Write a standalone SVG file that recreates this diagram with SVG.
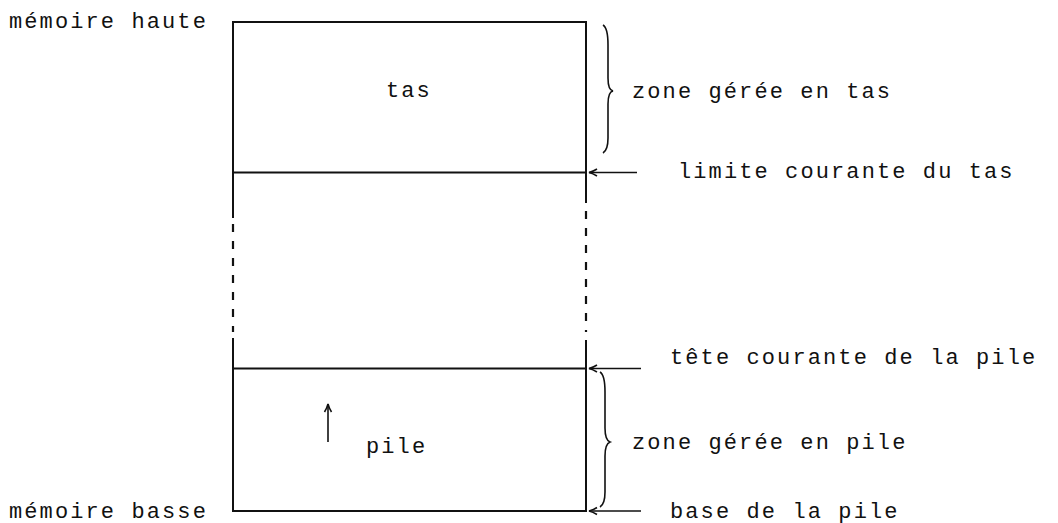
<svg xmlns="http://www.w3.org/2000/svg" width="1058" height="523" viewBox="0 0 1058 523">
<style>
.t{font-family:"Liberation Mono","Courier New",monospace;font-size:22px;letter-spacing:2.1px;fill:#111}
.l{stroke:#111;stroke-width:2;fill:none}
.d{stroke:#111;stroke-width:2.2;fill:none;stroke-dasharray:8 9}
.b{stroke:#111;stroke-width:1.6;fill:none}
.a{stroke:#111;stroke-width:1.6;fill:none}
</style>
<defs>
<marker id="ah" viewBox="0 0 10 10" refX="9" refY="5" markerWidth="10" markerHeight="10" orient="auto" markerUnits="userSpaceOnUse">
<path d="M1,1.5 Q5,4 9,5 Q5,6 1,8.5" fill="none" stroke="#111" stroke-width="1.6"/>
</marker>
</defs>
<rect width="1058" height="523" fill="#fff"/>
<g id="tas">
<path class="l" d="M233,172.5 L233,22 L586,22 L586,172.5 Z"/>
<text class="t" x="386" y="97">tas</text>
</g>
<g id="libre">
<path class="l" d="M233,172.5 L233,218 M233,338 L233,368.5"/>
<path class="d" d="M233,224 L233,332"/>
<path class="l" d="M586,172.5 L586,203 M586,340 L586,368.5"/>
<path class="d" d="M586,211 L586,332"/>
</g>
<g id="pile">
<path class="l" d="M233,368.5 L233,511 L586,511 L586,368.5 Z"/>
<text class="t" x="366" y="453">pile</text>
<line class="a" x1="328" y1="442" x2="328" y2="404" marker-end="url(#ah)"/>
</g>
<g id="labels">
<text class="t" x="9" y="28">mémoire haute</text>
<text class="t" x="9" y="518">mémoire basse</text>
<text class="t" x="632" y="98">zone gérée en tas</text>
<text class="t" x="678" y="178">limite courante du tas</text>
<text class="t" x="670" y="364">tête courante de la pile</text>
<text class="t" x="632" y="449">zone gérée en pile</text>
<text class="t" x="670" y="518">base de la pile</text>
</g>
<g id="connectors">
<line class="a" x1="637" y1="172.5" x2="589" y2="172.5" marker-end="url(#ah)"/>
<line class="a" x1="641" y1="368.5" x2="589" y2="368.5" marker-end="url(#ah)"/>
<line class="a" x1="641" y1="511" x2="589" y2="511" marker-end="url(#ah)"/>
<path class="b" d="M603,25 Q608,28 608,45 L608,78 Q608,90 613,91 Q608,92 608,104 L608,138 Q608,150 603,153"/>
<path class="b" d="M600,372 Q605,375 605,392 L605,428 Q605,440 610,442 Q605,444 605,456 L605,492 Q605,504 600,507"/>
</g>
</svg>
